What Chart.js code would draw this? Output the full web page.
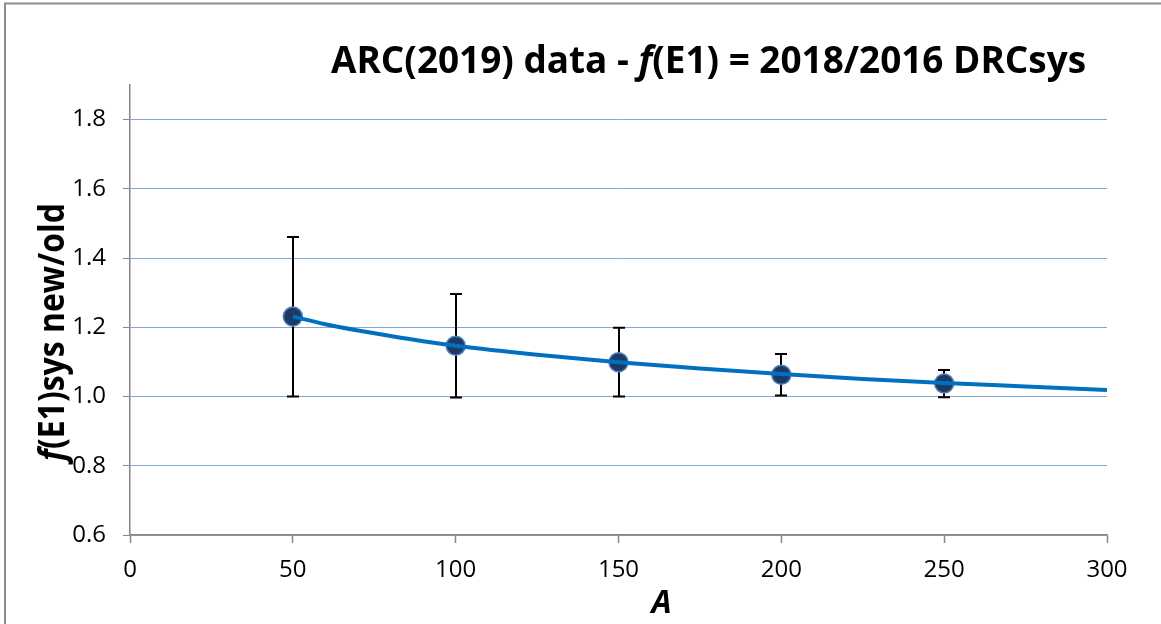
<!DOCTYPE html>
<html>
<head>
<meta charset="utf-8">
<script src="https://cdn.jsdelivr.net/npm/chart.js@4/dist/chart.umd.min.js"></script>
<style>
  html, body { margin: 0; padding: 0; background: #fff; }
  #wrap { width: 1161px; height: 624px; position: relative; }
</style>
</head>
<body>
<div id="wrap"><canvas id="chartRatio" width="1161" height="624"></canvas></div>
<script>
// mesures ARC(2019) : rapport f(E1)sys nouveau / ancien
const pointA = [50, 100, 150, 200, 250];
const pointRatio = [1.231, 1.147, 1.099, 1.063, 1.038];
const errLow = [1.000, 0.997, 1.000, 1.003, 0.998];
const errHigh = [1.461, 1.296, 1.199, 1.123, 1.077];

// courbe d'ajustement
const fitA = [50, 60, 70, 80, 90, 100, 125, 150, 175, 200, 225, 250, 275, 300];
const fitRatio = [1.231, 1.209, 1.191, 1.175, 1.160, 1.147, 1.121, 1.099, 1.081, 1.065, 1.051, 1.039, 1.029, 1.019];

const xTicks = [0, 50, 100, 150, 200, 250, 300];
const yTicks = [0.6, 0.8, 1.0, 1.2, 1.4, 1.6, 1.8];

const FONT = '"Open Sans", "Noto Sans", sans-serif';

// dessine un texte en plusieurs morceaux (certains en italique), compressé à une largeur donnée
function drawParts(ctx, parts, size, width) {
    let total = 0;
    parts.forEach(p => {
        ctx.font = (p.italic ? 'italic ' : '') + 'bold ' + size + 'px ' + FONT;
        p.w = ctx.measureText(p.text).width;
        total += p.w;
    });
    const k = width / total;
    ctx.scale(k, 1);
    let x = 0;
    parts.forEach(p => {
        ctx.font = (p.italic ? 'italic ' : '') + 'bold ' + size + 'px ' + FONT;
        ctx.fillText(p.text, x, 0);
        x += p.w;
    });
}

const decorPlugin = {
    id: 'decor',
    beforeDraw(chart) {
        const ctx = chart.ctx;
        ctx.save();
        ctx.fillStyle = '#fff';
        ctx.fillRect(0, 0, chart.width, chart.height);
        ctx.strokeStyle = '#8c8c8c';
        ctx.lineWidth = 2;
        ctx.beginPath();
        ctx.moveTo(5, chart.height + 5);
        ctx.lineTo(5, 3.5);
        ctx.lineTo(chart.width + 5, 3.5);
        ctx.stroke();
        ctx.restore();
    },
    beforeDatasetsDraw(chart) {
        // barres d'erreur
        const ctx = chart.ctx;
        const xs = chart.scales.x, ys = chart.scales.y;
        ctx.save();
        ctx.strokeStyle = '#000';
        ctx.lineWidth = 2;
        pointA.forEach((a, i) => {
            const px = Math.round(xs.getPixelForValue(a));
            const y1 = ys.getPixelForValue(errLow[i]);
            const y2 = ys.getPixelForValue(errHigh[i]);
            ctx.beginPath();
            ctx.moveTo(px, y1); ctx.lineTo(px, y2);
            ctx.moveTo(px - 6, y1); ctx.lineTo(px + 6, y1);
            ctx.moveTo(px - 6, y2); ctx.lineTo(px + 6, y2);
            ctx.stroke();
        });
        ctx.restore();
    },
    afterDraw(chart) {
        const ctx = chart.ctx;
        const area = chart.chartArea;
        ctx.save();
        ctx.fillStyle = '#000';
        ctx.textBaseline = 'alphabetic';

        // titre
        ctx.save();
        ctx.translate(331, 73);
        drawParts(ctx, [
            { text: 'ARC(2019) data - ' },
            { text: 'f', italic: true },
            { text: '(E1) = 2018/2016 DRCsys' }
        ], 38, 755);
        ctx.restore();

        // titre axe Y
        ctx.save();
        ctx.translate(64, 461);
        ctx.rotate(-Math.PI / 2);
        drawParts(ctx, [
            { text: 'f', italic: true },
            { text: '(E1)sys new/old' }
        ], 36, 258);
        ctx.restore();

        // titre axe X
        ctx.font = 'italic bold 32px ' + FONT;
        ctx.textAlign = 'center';
        ctx.fillText('A', (area.left + area.right) / 2 + 43, 613);
        ctx.restore();
    }
};

const canvas = document.getElementById('chartRatio');

const chart = new Chart(canvas, {
    type: 'scatter',
    data: {
        datasets: [
            {
                type: 'line',
                label: 'fit',
                data: fitA.map((a, i) => ({ x: a, y: fitRatio[i] })),
                borderColor: '#0070C0',
                borderWidth: 4,
                pointRadius: 0,
                fill: false,
                cubicInterpolationMode: 'monotone',
                order: 0
            },
            {
                label: 'ARC(2019)',
                data: pointA.map((a, i) => ({ x: a, y: pointRatio[i] })),
                backgroundColor: '#1C3A64',
                borderColor: '#4F81BD',
                borderWidth: 1.5,
                pointRadius: 9.5,
                order: 1
            }
        ]
    },
    options: {
        responsive: false,
        animation: false,
        layout: { padding: { top: 85, right: 54, left: 0, bottom: 0 } },
        plugins: {
            legend: { display: false },
            tooltip: { enabled: false },
            title: { display: false }
        },
        scales: {
            x: {
                type: 'linear',
                min: 0,
                max: 300,
                afterFit: s => { s.height = 89; },
                afterBuildTicks: s => { s.ticks = xTicks.map(v => ({ value: v })); },
                ticks: {
                    color: '#000',
                    padding: 13,
                    font: { family: FONT, size: 24 }
                },
                grid: {
                    drawOnChartArea: false,
                    tickLength: 8,
                    tickColor: '#868686',
                    tickWidth: 1.5
                },
                border: { color: '#868686', width: 1.5 }
            },
            y: {
                min: 0.6,
                max: 1.9,
                afterFit: s => { s.width = 130; },
                afterBuildTicks: s => { s.ticks = yTicks.map(v => ({ value: v })); },
                ticks: {
                    color: '#000',
                    padding: 17,
                    font: { family: FONT, size: 24 },
                    callback: v => v.toFixed(1)
                },
                grid: {
                    color: '#87A6D3',
                    lineWidth: 1,
                    tickLength: 7,
                    tickColor: '#868686'
                },
                border: { color: '#868686', width: 1.5 }
            }
        }
    },
    plugins: [decorPlugin]
});
</script>
</body>
</html>
